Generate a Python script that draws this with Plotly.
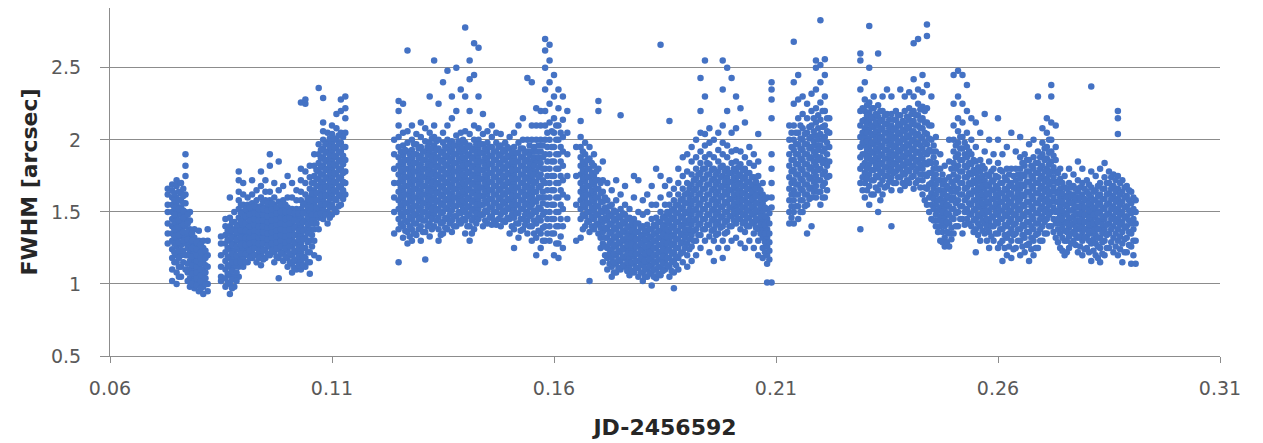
import plotly.graph_objects as go

# Column positions (JD-2456592), each with the FWHM values of its points
jd_cols = [
    0.073, 0.074, 0.075, 0.076, 0.077, 0.078, 0.079, 0.080, 0.081, 0.082,
    0.085, 0.086, 0.087, 0.088, 0.089, 0.090, 0.091, 0.092, 0.093, 0.094,
    0.095, 0.096, 0.097, 0.098, 0.099, 0.100, 0.101, 0.102, 0.103, 0.104,
    0.105, 0.106, 0.107, 0.108, 0.109, 0.110, 0.111, 0.112, 0.113,
    0.124, 0.125, 0.126, 0.127, 0.128, 0.129, 0.130, 0.131, 0.132, 0.133,
    0.134, 0.135, 0.136, 0.137, 0.138, 0.139, 0.140, 0.141, 0.142, 0.143,
    0.144, 0.145, 0.146, 0.147, 0.148, 0.149, 0.150, 0.151, 0.152, 0.153,
    0.154, 0.155, 0.156, 0.157, 0.158, 0.159, 0.160, 0.161, 0.162, 0.163,
    0.165, 0.166, 0.167, 0.168, 0.169, 0.170, 0.171, 0.172, 0.173, 0.174,
    0.175, 0.176, 0.177, 0.178, 0.179, 0.180, 0.181, 0.182, 0.183, 0.184,
    0.185, 0.186, 0.187, 0.188, 0.189, 0.190, 0.191, 0.192, 0.193, 0.194,
    0.195, 0.196, 0.197, 0.198, 0.199, 0.200, 0.201, 0.202, 0.203, 0.204,
    0.205, 0.206, 0.207, 0.208, 0.209,
    0.213, 0.214, 0.215, 0.216, 0.217, 0.218, 0.219, 0.220, 0.221, 0.222,
    0.229, 0.230, 0.231, 0.232, 0.233, 0.234, 0.235, 0.236, 0.237, 0.238,
    0.239, 0.240, 0.241, 0.242, 0.243, 0.244, 0.245, 0.246, 0.247, 0.248,
    0.249, 0.250, 0.251, 0.252, 0.253, 0.254, 0.255, 0.256, 0.257, 0.258,
    0.259, 0.260, 0.261, 0.262, 0.263, 0.264, 0.265, 0.266, 0.267, 0.268,
    0.269, 0.270, 0.271, 0.272, 0.273, 0.274, 0.275, 0.276, 0.277, 0.278,
    0.279, 0.280, 0.281, 0.282, 0.283, 0.284, 0.285, 0.286, 0.287, 0.288,
    0.289, 0.290, 0.291,
]

fwhm_cols = [
    [1.28, 1.35, 1.42, 1.5, 1.55, 1.62, 1.66],
    [1.02, 1.1, 1.18, 1.24, 1.3, 1.35, 1.4, 1.45, 1.5, 1.55, 1.6, 1.65, 1.69],
    [1.0, 1.08, 1.15, 1.2, 1.26, 1.31, 1.36, 1.41, 1.46, 1.5, 1.55, 1.6, 1.68, 1.72],
    [1.05, 1.12, 1.2, 1.27, 1.33, 1.38, 1.43, 1.48, 1.53, 1.58, 1.63, 1.7],
    [1.1, 1.2, 1.28, 1.34, 1.4, 1.45, 1.5, 1.56, 1.62, 1.75, 1.82, 1.9],
    [0.98, 1.04, 1.1, 1.16, 1.22, 1.28, 1.33, 1.38, 1.44, 1.5],
    [0.97, 1.02, 1.06, 1.1, 1.14, 1.18, 1.22, 1.27, 1.32, 1.38],
    [0.95, 1.0, 1.04, 1.08, 1.12, 1.16, 1.2, 1.25, 1.3, 1.37],
    [0.93, 0.98, 1.02, 1.06, 1.1, 1.15, 1.2, 1.25, 1.3],
    [0.95, 1.0, 1.12, 1.2, 1.3, 1.38],
    [1.02, 1.05, 1.12, 1.2, 1.28, 1.33],
    [0.98, 1.04, 1.1, 1.16, 1.22, 1.28, 1.34, 1.4, 1.45],
    [0.93, 1.0, 1.06, 1.12, 1.18, 1.24, 1.3, 1.35, 1.4, 1.46, 1.6],
    [0.98, 1.05, 1.12, 1.18, 1.23, 1.28, 1.33, 1.38, 1.43, 1.5],
    [1.05, 1.12, 1.18, 1.24, 1.3, 1.35, 1.4, 1.46, 1.52, 1.58, 1.64, 1.72, 1.78],
    [1.12, 1.18, 1.24, 1.3, 1.35, 1.4, 1.45, 1.5, 1.55, 1.62, 1.7],
    [1.15, 1.2, 1.25, 1.3, 1.34, 1.38, 1.42, 1.46, 1.5, 1.55, 1.6],
    [1.18, 1.22, 1.27, 1.31, 1.35, 1.39, 1.43, 1.47, 1.51, 1.56, 1.62, 1.72],
    [1.15, 1.2, 1.25, 1.3, 1.34, 1.38, 1.42, 1.46, 1.5, 1.54, 1.58, 1.65],
    [1.13, 1.2, 1.26, 1.3, 1.34, 1.38, 1.42, 1.46, 1.5, 1.54, 1.6, 1.68, 1.78],
    [1.18, 1.24, 1.29, 1.33, 1.37, 1.41, 1.45, 1.49, 1.53, 1.58, 1.64, 1.72],
    [1.2, 1.26, 1.3, 1.34, 1.38, 1.42, 1.46, 1.5, 1.54, 1.58, 1.64, 1.82, 1.9],
    [1.15, 1.22, 1.27, 1.31, 1.35, 1.39, 1.43, 1.47, 1.51, 1.55, 1.6, 1.7],
    [1.04, 1.18, 1.24, 1.28, 1.32, 1.36, 1.4, 1.44, 1.48, 1.52, 1.57, 1.65, 1.85],
    [1.16, 1.22, 1.27, 1.31, 1.35, 1.39, 1.43, 1.47, 1.52, 1.58, 1.68],
    [1.12, 1.18, 1.23, 1.28, 1.32, 1.36, 1.4, 1.44, 1.48, 1.53, 1.6, 1.75],
    [1.08, 1.14, 1.2, 1.26, 1.31, 1.36, 1.41, 1.46, 1.52, 1.6, 1.7],
    [1.1, 1.16, 1.22, 1.28, 1.34, 1.4, 1.46, 1.52, 1.58, 1.65],
    [1.1, 1.16, 1.22, 1.28, 1.34, 1.4, 1.46, 1.52, 1.58, 1.64, 1.72, 1.8, 2.26],
    [1.12, 1.18, 1.25, 1.32, 1.38, 1.44, 1.5, 1.56, 1.62, 1.7, 1.78, 2.25, 2.28],
    [1.07, 1.15, 1.22, 1.3, 1.38, 1.45, 1.5, 1.55, 1.6, 1.66, 1.74, 1.82],
    [1.2, 1.3, 1.38, 1.45, 1.5, 1.55, 1.6, 1.65, 1.7, 1.75, 1.82, 1.9],
    [1.18, 1.38, 1.46, 1.52, 1.58, 1.63, 1.68, 1.73, 1.78, 1.84, 1.9, 1.97, 2.36],
    [1.45, 1.52, 1.58, 1.64, 1.7, 1.76, 1.82, 1.88, 1.94, 2.0, 2.06, 2.12, 2.29],
    [1.42, 1.5, 1.56, 1.62, 1.68, 1.74, 1.8, 1.86, 1.92, 1.98, 2.05],
    [1.48, 1.55, 1.62, 1.68, 1.74, 1.8, 1.86, 1.92, 1.98, 2.04, 2.1],
    [1.5, 1.58, 1.64, 1.7, 1.76, 1.82, 1.88, 1.94, 2.0, 2.08, 2.18],
    [1.55, 1.62, 1.68, 1.74, 1.8, 1.86, 1.92, 1.98, 2.05, 2.2, 2.28],
    [1.62, 1.7, 1.78, 1.86, 1.95, 2.05, 2.15, 2.22, 2.3],
    [1.35, 1.5, 1.6, 1.7, 1.8, 1.9, 2.0],
    [1.15, 1.38, 1.45, 1.52, 1.58, 1.64, 1.7, 1.76, 1.82, 1.88, 1.95, 2.02, 2.1, 2.2, 2.27],
    [1.32, 1.4, 1.47, 1.53, 1.59, 1.65, 1.71, 1.77, 1.83, 1.89, 1.96, 2.05, 2.25],
    [1.28, 1.36, 1.43, 1.5, 1.56, 1.62, 1.68, 1.74, 1.8, 1.86, 1.92, 1.98, 2.06, 2.62],
    [1.3, 1.38, 1.45, 1.51, 1.57, 1.63, 1.69, 1.75, 1.81, 1.87, 1.93, 2.0, 2.1],
    [1.34, 1.42, 1.48, 1.54, 1.6, 1.66, 1.72, 1.78, 1.84, 1.9, 1.97, 2.04],
    [1.3, 1.4, 1.47, 1.53, 1.59, 1.65, 1.71, 1.77, 1.83, 1.89, 1.95, 2.02, 2.12],
    [1.17, 1.36, 1.44, 1.5, 1.56, 1.62, 1.68, 1.74, 1.8, 1.86, 1.92, 1.99, 2.08],
    [1.33, 1.42, 1.49, 1.55, 1.61, 1.67, 1.73, 1.79, 1.85, 1.91, 1.98, 2.05, 2.3],
    [1.4, 1.48, 1.54, 1.6, 1.66, 1.72, 1.78, 1.84, 1.9, 1.96, 2.02, 2.1, 2.55],
    [1.3, 1.38, 1.46, 1.52, 1.58, 1.64, 1.7, 1.76, 1.82, 1.88, 1.94, 2.0, 2.25],
    [1.35, 1.43, 1.5, 1.56, 1.62, 1.68, 1.74, 1.8, 1.86, 1.92, 1.98, 2.05, 2.4],
    [1.38, 1.45, 1.52, 1.58, 1.64, 1.7, 1.76, 1.82, 1.88, 1.94, 2.0, 2.1, 2.48],
    [1.36, 1.44, 1.51, 1.57, 1.63, 1.69, 1.75, 1.81, 1.87, 1.93, 1.99, 2.15, 2.3],
    [1.4, 1.47, 1.54, 1.6, 1.66, 1.72, 1.78, 1.84, 1.9, 1.96, 2.03, 2.2, 2.5],
    [1.42, 1.49, 1.55, 1.61, 1.67, 1.73, 1.79, 1.85, 1.91, 1.97, 2.05, 2.35],
    [1.35, 1.44, 1.5, 1.56, 1.62, 1.68, 1.74, 1.8, 1.86, 1.92, 1.98, 2.06, 2.3, 2.78],
    [1.3, 1.4, 1.48, 1.54, 1.6, 1.66, 1.72, 1.78, 1.84, 1.9, 1.96, 2.04, 2.2, 2.42, 2.55],
    [1.38, 1.46, 1.52, 1.58, 1.64, 1.7, 1.76, 1.82, 1.88, 1.94, 2.0, 2.1, 2.45, 2.67],
    [1.45, 1.52, 1.58, 1.64, 1.7, 1.76, 1.82, 1.88, 1.94, 2.0, 2.08, 2.3, 2.64],
    [1.4, 1.48, 1.55, 1.61, 1.67, 1.73, 1.79, 1.85, 1.91, 1.97, 2.04, 2.18],
    [1.42, 1.5, 1.56, 1.62, 1.68, 1.74, 1.8, 1.86, 1.92, 1.98, 2.06],
    [1.41, 1.47, 1.53, 1.59, 1.65, 1.71, 1.77, 1.83, 1.89, 1.95, 2.02, 2.1],
    [1.41, 1.5, 1.56, 1.62, 1.68, 1.74, 1.8, 1.86, 1.92, 1.98, 2.05],
    [1.4, 1.48, 1.54, 1.6, 1.66, 1.72, 1.78, 1.84, 1.9, 1.96, 2.04],
    [1.43, 1.5, 1.56, 1.62, 1.68, 1.74, 1.8, 1.86, 1.92, 1.98],
    [1.35, 1.45, 1.52, 1.58, 1.64, 1.7, 1.76, 1.82, 1.88, 1.94, 2.02],
    [1.25, 1.38, 1.46, 1.52, 1.58, 1.64, 1.7, 1.76, 1.82, 1.88, 1.95, 2.05],
    [1.32, 1.42, 1.49, 1.55, 1.61, 1.67, 1.73, 1.79, 1.85, 1.91, 1.98, 2.1],
    [1.38, 1.45, 1.52, 1.58, 1.64, 1.7, 1.76, 1.82, 1.88, 1.94, 2.0, 2.15],
    [1.35, 1.44, 1.5, 1.56, 1.62, 1.68, 1.74, 1.8, 1.86, 1.92, 2.0, 2.43],
    [1.3, 1.4, 1.48, 1.55, 1.61, 1.67, 1.73, 1.79, 1.85, 1.92, 2.0, 2.1, 2.4],
    [1.2, 1.32, 1.42, 1.5, 1.57, 1.64, 1.71, 1.78, 1.85, 1.92, 2.0, 2.1, 2.22],
    [1.25, 1.35, 1.44, 1.52, 1.6, 1.68, 1.76, 1.84, 1.92, 2.0, 2.1, 2.2],
    [1.15, 1.3, 1.4, 1.5, 1.6, 1.7, 1.8, 1.9, 2.0, 2.1, 2.2, 2.35, 2.5, 2.62, 2.7],
    [1.3, 1.4, 1.5, 1.6, 1.7, 1.8, 1.9, 2.0, 2.12, 2.25, 2.4, 2.55, 2.66],
    [1.2, 1.35, 1.45, 1.55, 1.65, 1.75, 1.85, 1.95, 2.05, 2.15, 2.3, 2.45],
    [1.18, 1.28, 1.4, 1.5, 1.6, 1.7, 1.8, 1.9, 2.0, 2.1, 2.22, 2.35],
    [1.25, 1.4, 1.52, 1.62, 1.72, 1.82, 1.92, 2.02, 2.14, 2.3],
    [1.45, 1.6, 1.75, 1.9, 2.05, 2.2],
    [1.3, 1.55, 1.75, 1.95],
    [1.32, 1.45, 1.52, 1.58, 1.64, 1.7, 1.76, 1.82, 1.88, 1.95, 2.02, 2.13],
    [1.4, 1.47, 1.53, 1.59, 1.65, 1.71, 1.77, 1.83, 1.9, 1.98],
    [1.02, 1.36, 1.44, 1.5, 1.56, 1.62, 1.68, 1.74, 1.8, 1.87, 1.95],
    [1.38, 1.45, 1.51, 1.57, 1.63, 1.69, 1.75, 1.82, 1.9],
    [1.35, 1.42, 1.48, 1.54, 1.6, 1.66, 1.72, 1.8, 2.2, 2.27],
    [1.15, 1.28, 1.36, 1.43, 1.5, 1.57, 1.64, 1.72, 1.85],
    [1.1, 1.18, 1.25, 1.32, 1.38, 1.44, 1.5, 1.58, 1.7],
    [1.05, 1.12, 1.18, 1.24, 1.3, 1.36, 1.42, 1.48, 1.55, 1.65],
    [1.08, 1.14, 1.2, 1.26, 1.32, 1.38, 1.44, 1.5, 1.58, 1.72],
    [1.1, 1.16, 1.22, 1.28, 1.34, 1.4, 1.46, 1.52, 1.62, 2.17],
    [1.12, 1.18, 1.24, 1.3, 1.36, 1.42, 1.48, 1.55, 1.68],
    [1.06, 1.12, 1.18, 1.24, 1.3, 1.35, 1.4, 1.46, 1.52],
    [1.08, 1.14, 1.19, 1.24, 1.29, 1.34, 1.39, 1.45, 1.6, 1.75],
    [1.05, 1.11, 1.16, 1.21, 1.26, 1.31, 1.36, 1.42, 1.5, 1.72],
    [1.02, 1.08, 1.14, 1.19, 1.24, 1.29, 1.34, 1.4, 1.48, 1.58],
    [1.05, 1.1, 1.15, 1.2, 1.25, 1.3, 1.35, 1.41, 1.5, 1.62],
    [0.99, 1.08, 1.13, 1.18, 1.23, 1.28, 1.33, 1.38, 1.45, 1.55, 1.68],
    [1.04, 1.1, 1.15, 1.2, 1.25, 1.3, 1.35, 1.4, 1.46, 1.55, 1.8],
    [1.06, 1.12, 1.17, 1.22, 1.27, 1.32, 1.37, 1.43, 1.5, 1.6, 1.75, 2.66],
    [1.1, 1.16, 1.21, 1.26, 1.31, 1.36, 1.41, 1.47, 1.55, 1.68],
    [1.05, 1.12, 1.18, 1.24, 1.3, 1.36, 1.42, 1.48, 1.55, 1.62, 1.72, 2.13],
    [0.97, 1.08, 1.16, 1.22, 1.28, 1.34, 1.4, 1.46, 1.52, 1.58, 1.66],
    [1.1, 1.18, 1.25, 1.31, 1.37, 1.43, 1.49, 1.55, 1.62, 1.7, 1.8],
    [1.15, 1.22, 1.29, 1.35, 1.41, 1.47, 1.53, 1.59, 1.66, 1.75, 1.88],
    [1.12, 1.2, 1.28, 1.35, 1.42, 1.49, 1.56, 1.63, 1.7, 1.78, 1.9],
    [1.16, 1.26, 1.34, 1.41, 1.48, 1.55, 1.62, 1.69, 1.76, 1.85, 1.95],
    [1.2, 1.3, 1.38, 1.45, 1.52, 1.59, 1.66, 1.73, 1.8, 1.88, 2.0],
    [1.25, 1.34, 1.42, 1.49, 1.56, 1.63, 1.7, 1.77, 1.84, 1.92, 2.05, 2.2, 2.43],
    [1.3, 1.38, 1.45, 1.52, 1.59, 1.66, 1.73, 1.8, 1.88, 1.96, 2.04, 2.3, 2.55],
    [1.22, 1.33, 1.41, 1.48, 1.55, 1.62, 1.69, 1.76, 1.83, 1.9, 1.98, 2.08],
    [1.16, 1.3, 1.38, 1.45, 1.52, 1.59, 1.66, 1.73, 1.8, 1.88, 2.0],
    [1.25, 1.35, 1.43, 1.5, 1.57, 1.64, 1.71, 1.78, 1.85, 1.93, 2.05],
    [1.18, 1.3, 1.4, 1.47, 1.54, 1.61, 1.68, 1.75, 1.82, 1.9, 1.98, 2.1, 2.35, 2.55],
    [1.25, 1.36, 1.44, 1.5, 1.56, 1.62, 1.68, 1.74, 1.8, 1.88, 1.96, 2.2, 2.5],
    [1.3, 1.4, 1.47, 1.53, 1.59, 1.65, 1.71, 1.77, 1.84, 1.92, 2.05, 2.43],
    [1.32, 1.42, 1.48, 1.54, 1.6, 1.66, 1.72, 1.78, 1.85, 1.93, 2.08, 2.3],
    [1.28, 1.38, 1.45, 1.5, 1.55, 1.6, 1.65, 1.7, 1.76, 1.83, 1.92, 2.22],
    [1.25, 1.36, 1.43, 1.48, 1.53, 1.58, 1.63, 1.68, 1.74, 1.8, 1.88, 2.12],
    [1.3, 1.4, 1.46, 1.51, 1.56, 1.61, 1.66, 1.71, 1.77, 1.84, 1.95],
    [1.25, 1.35, 1.42, 1.48, 1.53, 1.58, 1.63, 1.68, 1.74, 1.82, 1.9],
    [1.2, 1.3, 1.38, 1.44, 1.5, 1.56, 1.62, 1.68, 1.75, 1.85, 2.04],
    [1.18, 1.25, 1.32, 1.38, 1.44, 1.5, 1.56, 1.62, 1.7],
    [1.01, 1.14, 1.2, 1.26, 1.32, 1.38, 1.45, 1.52, 1.6],
    [1.01, 1.53, 1.6, 1.7, 1.8, 1.9, 2.15, 2.28, 2.35, 2.4],
    [1.42, 1.5, 1.58, 1.66, 1.74, 1.82, 1.9, 2.0, 2.1],
    [1.42, 1.5, 1.58, 1.65, 1.72, 1.79, 1.86, 1.93, 2.0, 2.1, 2.25, 2.4, 2.68],
    [1.45, 1.54, 1.62, 1.69, 1.76, 1.83, 1.9, 1.97, 2.05, 2.15, 2.28, 2.45],
    [1.5, 1.58, 1.65, 1.72, 1.79, 1.86, 1.93, 2.0, 2.08, 2.18, 2.3],
    [1.35, 1.55, 1.62, 1.69, 1.76, 1.83, 1.9, 1.97, 2.05, 2.15, 2.25],
    [1.4, 1.6, 1.67, 1.74, 1.81, 1.88, 1.95, 2.02, 2.1, 2.2, 2.32],
    [1.6, 1.68, 1.75, 1.82, 1.89, 1.96, 2.03, 2.12, 2.22, 2.35, 2.5, 2.55],
    [1.55, 1.64, 1.72, 1.8, 1.88, 1.96, 2.04, 2.14, 2.26, 2.4, 2.52, 2.83],
    [1.6, 1.7, 1.78, 1.86, 1.94, 2.02, 2.1, 2.2, 2.3, 2.45, 2.56],
    [1.75, 1.85, 1.95, 2.05, 2.15],
    [1.38, 1.7, 1.8, 1.88, 1.95, 2.02, 2.1, 2.2, 2.35, 2.55, 2.6],
    [1.6, 1.7, 1.77, 1.84, 1.9, 1.96, 2.02, 2.08, 2.14, 2.2, 2.28, 2.4],
    [1.55, 1.68, 1.76, 1.83, 1.89, 1.95, 2.01, 2.07, 2.13, 2.19, 2.26, 2.5, 2.79],
    [1.62, 1.72, 1.79, 1.85, 1.91, 1.97, 2.03, 2.09, 2.15, 2.22, 2.3],
    [1.5, 1.65, 1.74, 1.8, 1.86, 1.92, 1.98, 2.04, 2.1, 2.16, 2.24, 2.6],
    [1.62, 1.72, 1.78, 1.84, 1.9, 1.96, 2.02, 2.08, 2.14, 2.2, 2.3],
    [1.68, 1.75, 1.81, 1.87, 1.93, 1.99, 2.05, 2.11, 2.18, 2.35],
    [1.4, 1.65, 1.74, 1.8, 1.86, 1.92, 1.98, 2.04, 2.1, 2.18, 2.3],
    [1.7, 1.78, 1.84, 1.9, 1.96, 2.02, 2.08, 2.14, 2.2],
    [1.65, 1.74, 1.8, 1.86, 1.92, 1.98, 2.04, 2.1, 2.17, 2.35],
    [1.68, 1.76, 1.82, 1.88, 1.94, 2.0, 2.06, 2.12, 2.2, 2.3],
    [1.7, 1.78, 1.84, 1.9, 1.96, 2.02, 2.08, 2.14, 2.22, 2.33],
    [1.66, 1.75, 1.82, 1.88, 1.94, 2.0, 2.06, 2.13, 2.2, 2.3, 2.42, 2.67],
    [1.72, 1.8, 1.86, 1.92, 1.98, 2.04, 2.1, 2.17, 2.25, 2.35, 2.7],
    [1.62, 1.72, 1.8, 1.87, 1.94, 2.01, 2.08, 2.15, 2.23, 2.33, 2.45],
    [1.55, 1.66, 1.75, 1.83, 1.9, 1.97, 2.04, 2.12, 2.22, 2.38, 2.72, 2.8],
    [1.45, 1.55, 1.63, 1.7, 1.77, 1.84, 1.92, 2.0, 2.1, 2.3],
    [1.4, 1.48, 1.55, 1.62, 1.69, 1.76, 1.84, 1.92, 2.02],
    [1.3, 1.4, 1.47, 1.53, 1.59, 1.65, 1.72, 1.8, 1.9],
    [1.26, 1.32, 1.4, 1.46, 1.52, 1.58, 1.65, 1.72, 1.82],
    [1.26, 1.35, 1.42, 1.48, 1.54, 1.6, 1.66, 1.74, 1.85, 2.0],
    [1.35, 1.45, 1.52, 1.6, 1.68, 1.76, 1.84, 1.92, 2.0, 2.1, 2.25, 2.45],
    [1.4, 1.5, 1.58, 1.66, 1.74, 1.82, 1.9, 1.98, 2.06, 2.15, 2.3, 2.48],
    [1.35, 1.45, 1.54, 1.62, 1.7, 1.78, 1.86, 1.94, 2.02, 2.12, 2.25, 2.45],
    [1.45, 1.52, 1.6, 1.67, 1.74, 1.81, 1.88, 1.95, 2.05, 2.2, 2.38],
    [1.4, 1.48, 1.55, 1.62, 1.69, 1.76, 1.83, 1.9, 2.0, 2.15],
    [1.22, 1.38, 1.45, 1.52, 1.58, 1.64, 1.7, 1.77, 1.85, 1.95, 2.12],
    [1.3, 1.4, 1.47, 1.53, 1.59, 1.65, 1.71, 1.78, 1.86, 2.05],
    [1.35, 1.42, 1.48, 1.54, 1.6, 1.66, 1.72, 1.8, 1.92, 2.18],
    [1.25, 1.36, 1.43, 1.5, 1.56, 1.62, 1.68, 1.75, 1.85, 2.0],
    [1.3, 1.4, 1.47, 1.53, 1.59, 1.65, 1.72, 1.8, 1.9],
    [1.25, 1.35, 1.42, 1.48, 1.54, 1.6, 1.66, 1.74, 1.84, 2.0, 2.15],
    [1.16, 1.3, 1.38, 1.45, 1.51, 1.57, 1.63, 1.7, 1.78, 1.9],
    [1.2, 1.32, 1.4, 1.47, 1.53, 1.59, 1.65, 1.72, 1.8, 1.95],
    [1.18, 1.3, 1.38, 1.45, 1.51, 1.57, 1.63, 1.7, 1.8, 2.05],
    [1.25, 1.35, 1.42, 1.48, 1.54, 1.6, 1.66, 1.72, 1.8, 1.92],
    [1.2, 1.3, 1.38, 1.45, 1.52, 1.59, 1.66, 1.73, 1.8, 1.88, 2.02],
    [1.22, 1.32, 1.4, 1.47, 1.54, 1.61, 1.68, 1.75, 1.82, 1.9],
    [1.16, 1.28, 1.36, 1.43, 1.5, 1.57, 1.64, 1.71, 1.78, 1.86, 1.97],
    [1.2, 1.3, 1.38, 1.45, 1.52, 1.59, 1.66, 1.73, 1.8, 1.88, 2.0],
    [1.25, 1.35, 1.42, 1.49, 1.56, 1.63, 1.7, 1.77, 1.84, 1.92, 2.3],
    [1.3, 1.4, 1.47, 1.54, 1.61, 1.68, 1.75, 1.82, 1.9, 1.98, 2.08],
    [1.35, 1.45, 1.52, 1.59, 1.66, 1.73, 1.8, 1.87, 1.95, 2.05, 2.15],
    [1.4, 1.5, 1.57, 1.64, 1.71, 1.78, 1.85, 1.92, 2.0, 2.12, 2.3, 2.38],
    [1.32, 1.42, 1.5, 1.57, 1.64, 1.71, 1.78, 1.86, 1.95, 2.1],
    [1.25, 1.35, 1.42, 1.48, 1.54, 1.6, 1.66, 1.73, 1.8],
    [1.2, 1.3, 1.37, 1.43, 1.49, 1.55, 1.61, 1.67, 1.75],
    [1.25, 1.33, 1.39, 1.45, 1.51, 1.57, 1.63, 1.7, 1.8],
    [1.3, 1.36, 1.42, 1.47, 1.52, 1.57, 1.62, 1.68, 1.76],
    [1.22, 1.32, 1.38, 1.43, 1.48, 1.53, 1.58, 1.64, 1.72, 1.85],
    [1.2, 1.3, 1.36, 1.41, 1.46, 1.51, 1.56, 1.62, 1.7, 1.8],
    [1.25, 1.33, 1.38, 1.43, 1.48, 1.53, 1.58, 1.64, 1.72],
    [1.16, 1.28, 1.35, 1.4, 1.45, 1.5, 1.55, 1.6, 1.67, 1.78, 2.37],
    [1.2, 1.28, 1.34, 1.4, 1.46, 1.52, 1.58, 1.65, 1.75],
    [1.15, 1.25, 1.32, 1.38, 1.44, 1.5, 1.56, 1.62, 1.7, 1.8],
    [1.2, 1.3, 1.38, 1.45, 1.52, 1.59, 1.66, 1.74, 1.84],
    [1.25, 1.35, 1.42, 1.49, 1.56, 1.63, 1.7, 1.78],
    [1.22, 1.32, 1.4, 1.47, 1.54, 1.61, 1.68, 1.76],
    [1.2, 1.3, 1.38, 1.45, 1.52, 1.59, 1.66, 1.75, 2.04, 2.15, 2.2],
    [1.15, 1.28, 1.36, 1.43, 1.5, 1.57, 1.64, 1.72],
    [1.22, 1.32, 1.4, 1.47, 1.54, 1.61, 1.68],
    [1.14, 1.26, 1.35, 1.42, 1.49, 1.56, 1.64],
    [1.14, 1.3, 1.42, 1.5, 1.58],
]

# Extra points read from the densest parts of each cloud (between the columns above)
jd_fill = [
    0.0745, 0.0755, 0.0765, 0.0775, 0.0785, 0.0795, 0.0805, 0.0815,
    0.0865, 0.0875, 0.0885, 0.0895, 0.0905, 0.0915, 0.0925, 0.0935, 0.0945,
    0.0955, 0.0965, 0.0975, 0.0985, 0.0995, 0.1005, 0.1015, 0.1025, 0.1035,
    0.1045, 0.1055, 0.1065, 0.1075, 0.1085, 0.1095, 0.1105, 0.1115, 0.1125,
    0.1255, 0.1265, 0.1275, 0.1285, 0.1295, 0.1305, 0.1315, 0.1325, 0.1335,
    0.1345, 0.1355, 0.1365, 0.1375, 0.1385, 0.1395, 0.1405, 0.1415, 0.1425,
    0.1435, 0.1445, 0.1455, 0.1465, 0.1475, 0.1485, 0.1495, 0.1505, 0.1515,
    0.1525, 0.1535, 0.1545, 0.1555, 0.1565, 0.1575, 0.1585, 0.1595, 0.1605,
    0.1615,
    0.1665, 0.1675, 0.1685, 0.1695, 0.1705, 0.1715, 0.1725, 0.1735, 0.1745,
    0.1755, 0.1765, 0.1775, 0.1785, 0.1795, 0.1805, 0.1815, 0.1825, 0.1835,
    0.1845, 0.1855, 0.1865, 0.1875, 0.1885, 0.1895, 0.1905, 0.1915, 0.1925,
    0.1935, 0.1945, 0.1955, 0.1965, 0.1975, 0.1985, 0.1995, 0.2005, 0.2015,
    0.2025, 0.2035, 0.2045, 0.2055, 0.2065, 0.2075, 0.2085,
    0.2135, 0.2145, 0.2155, 0.2165, 0.2175, 0.2185, 0.2195, 0.2205, 0.2215,
    0.2295, 0.2305, 0.2315, 0.2325, 0.2335, 0.2345, 0.2355, 0.2365, 0.2375,
    0.2385, 0.2395, 0.2405, 0.2415, 0.2425, 0.2435, 0.2445, 0.2455, 0.2465,
    0.2475, 0.2485, 0.2495, 0.2505, 0.2515, 0.2525, 0.2535, 0.2545, 0.2555,
    0.2565, 0.2575, 0.2585, 0.2595, 0.2605, 0.2615, 0.2625, 0.2635, 0.2645,
    0.2655, 0.2665, 0.2675, 0.2685, 0.2695, 0.2705, 0.2715, 0.2725, 0.2735,
    0.2745, 0.2755, 0.2765, 0.2775, 0.2785, 0.2795, 0.2805, 0.2815, 0.2825,
    0.2835, 0.2845, 0.2855, 0.2865, 0.2875, 0.2885, 0.2895, 0.2905,
]

fwhm_fill = [
    [1.15, 1.22, 1.28, 1.33, 1.38, 1.43, 1.48, 1.53, 1.58, 1.63],
    [1.05, 1.12, 1.18, 1.23, 1.29, 1.34, 1.39, 1.44, 1.52, 1.58, 1.64],
    [1.15, 1.23, 1.3, 1.36, 1.41, 1.46, 1.51, 1.56, 1.61, 1.66],
    [1.02, 1.08, 1.14, 1.2, 1.25, 1.31, 1.36, 1.42, 1.48],
    [1.0, 1.07, 1.13, 1.19, 1.25, 1.3, 1.35],
    [0.99, 1.04, 1.08, 1.12, 1.16, 1.2, 1.24, 1.29],
    [0.97, 1.02, 1.06, 1.1, 1.14, 1.18, 1.22, 1.27],
    [1.0, 1.04, 1.08, 1.13, 1.18, 1.23],
    [1.01, 1.07, 1.13, 1.19, 1.25, 1.31, 1.37],
    [0.97, 1.03, 1.09, 1.15, 1.21, 1.27, 1.32, 1.37, 1.43],
    [1.02, 1.08, 1.15, 1.2, 1.26, 1.31, 1.36, 1.41],
    [1.15, 1.21, 1.27, 1.32, 1.37, 1.43, 1.49, 1.55],
    [1.15, 1.21, 1.27, 1.32, 1.37, 1.42, 1.47, 1.52],
    [1.18, 1.23, 1.28, 1.32, 1.36, 1.4, 1.44, 1.48, 1.53],
    [1.2, 1.25, 1.29, 1.33, 1.37, 1.41, 1.45, 1.49, 1.54],
    [1.18, 1.23, 1.28, 1.32, 1.36, 1.4, 1.44, 1.48, 1.52],
    [1.17, 1.23, 1.28, 1.32, 1.36, 1.4, 1.44, 1.48, 1.52, 1.57],
    [1.21, 1.27, 1.31, 1.35, 1.39, 1.43, 1.47, 1.51, 1.56],
    [1.23, 1.28, 1.32, 1.36, 1.4, 1.44, 1.48, 1.52, 1.56],
    [1.19, 1.25, 1.29, 1.33, 1.37, 1.41, 1.45, 1.49, 1.53],
    [1.21, 1.26, 1.3, 1.34, 1.38, 1.42, 1.46, 1.5, 1.55],
    [1.19, 1.25, 1.29, 1.33, 1.37, 1.41, 1.45, 1.5, 1.55],
    [1.15, 1.21, 1.26, 1.3, 1.34, 1.38, 1.42, 1.46, 1.5],
    [1.11, 1.17, 1.23, 1.29, 1.34, 1.39, 1.44, 1.49],
    [1.13, 1.19, 1.25, 1.31, 1.37, 1.43, 1.49],
    [1.13, 1.19, 1.25, 1.31, 1.37, 1.43, 1.49, 1.55],
    [1.15, 1.22, 1.29, 1.35, 1.41, 1.47, 1.53, 1.59],
    [1.26, 1.34, 1.42, 1.48, 1.53, 1.58, 1.63, 1.7],
    [1.42, 1.48, 1.53, 1.58, 1.63, 1.68, 1.73, 1.79],
    [1.49, 1.55, 1.61, 1.66, 1.71, 1.76, 1.81, 1.87, 1.93],
    [1.48, 1.55, 1.61, 1.67, 1.73, 1.79, 1.85, 1.91, 1.97],
    [1.46, 1.53, 1.59, 1.65, 1.71, 1.77, 1.83, 1.89, 1.95, 2.01],
    [1.52, 1.59, 1.65, 1.71, 1.77, 1.83, 1.89, 1.95, 2.01],
    [1.54, 1.61, 1.67, 1.73, 1.79, 1.85, 1.91, 1.97, 2.03],
    [1.59, 1.65, 1.71, 1.77, 1.83, 1.89, 1.95, 2.02],
    [1.42, 1.49, 1.55, 1.61, 1.67, 1.73, 1.79, 1.85, 1.92],
    [1.37, 1.44, 1.5, 1.56, 1.62, 1.68, 1.74, 1.8, 1.86, 1.93],
    [1.33, 1.4, 1.47, 1.53, 1.59, 1.65, 1.71, 1.77, 1.84, 1.9],
    [1.35, 1.42, 1.48, 1.54, 1.6, 1.66, 1.72, 1.78, 1.84, 1.9, 1.97],
    [1.38, 1.45, 1.51, 1.57, 1.63, 1.69, 1.75, 1.81, 1.87, 1.94],
    [1.36, 1.44, 1.5, 1.56, 1.62, 1.68, 1.74, 1.8, 1.86, 1.92],
    [1.4, 1.47, 1.53, 1.59, 1.65, 1.71, 1.77, 1.83, 1.89, 1.95],
    [1.38, 1.45, 1.52, 1.58, 1.64, 1.7, 1.76, 1.82, 1.88, 1.94, 2.01],
    [1.44, 1.51, 1.57, 1.63, 1.69, 1.75, 1.81, 1.87, 1.93, 1.99],
    [1.34, 1.42, 1.49, 1.55, 1.61, 1.67, 1.73, 1.79, 1.85, 1.91],
    [1.39, 1.46, 1.53, 1.59, 1.65, 1.71, 1.77, 1.83, 1.89, 1.95],
    [1.42, 1.48, 1.55, 1.61, 1.67, 1.73, 1.79, 1.85, 1.91, 1.97],
    [1.4, 1.47, 1.54, 1.6, 1.66, 1.72, 1.78, 1.84, 1.9, 1.96],
    [1.44, 1.5, 1.57, 1.63, 1.69, 1.75, 1.81, 1.87, 1.93, 1.99],
    [1.45, 1.52, 1.58, 1.64, 1.7, 1.76, 1.82, 1.88, 1.94, 2.0],
    [1.4, 1.47, 1.53, 1.59, 1.65, 1.71, 1.77, 1.83, 1.89, 1.95],
    [1.35, 1.44, 1.51, 1.57, 1.63, 1.69, 1.75, 1.81, 1.87, 1.93],
    [1.42, 1.49, 1.55, 1.61, 1.67, 1.73, 1.79, 1.85, 1.91, 1.97],
    [1.48, 1.55, 1.61, 1.67, 1.73, 1.79, 1.85, 1.91, 1.97],
    [1.44, 1.51, 1.58, 1.64, 1.7, 1.76, 1.82, 1.88, 1.94],
    [1.46, 1.53, 1.59, 1.65, 1.71, 1.77, 1.83, 1.89, 1.95],
    [1.44, 1.5, 1.56, 1.62, 1.68, 1.74, 1.8, 1.86, 1.92],
    [1.45, 1.53, 1.59, 1.65, 1.71, 1.77, 1.83, 1.89, 1.95],
    [1.44, 1.51, 1.57, 1.63, 1.69, 1.75, 1.81, 1.87, 1.93],
    [1.46, 1.53, 1.59, 1.65, 1.71, 1.77, 1.83, 1.89, 1.95],
    [1.4, 1.48, 1.55, 1.61, 1.67, 1.73, 1.79, 1.85, 1.91],
    [1.42, 1.49, 1.55, 1.61, 1.67, 1.73, 1.79, 1.85, 1.91],
    [1.37, 1.45, 1.52, 1.58, 1.64, 1.7, 1.76, 1.82, 1.88, 1.94],
    [1.41, 1.48, 1.55, 1.61, 1.67, 1.73, 1.79, 1.85, 1.91],
    [1.4, 1.47, 1.53, 1.59, 1.65, 1.71, 1.77, 1.83, 1.89, 1.96],
    [1.35, 1.44, 1.51, 1.58, 1.64, 1.7, 1.76, 1.82, 1.88, 1.95],
    [1.37, 1.46, 1.53, 1.6, 1.67, 1.74, 1.81, 1.88, 1.96],
    [1.3, 1.39, 1.48, 1.56, 1.64, 1.72, 1.8, 1.88, 1.96],
    [1.35, 1.45, 1.55, 1.65, 1.75, 1.85, 1.95, 2.05],
    [1.35, 1.45, 1.55, 1.65, 1.75, 1.85, 1.95, 2.06],
    [1.28, 1.4, 1.5, 1.6, 1.7, 1.8, 1.9, 2.0, 2.1],
    [1.33, 1.45, 1.55, 1.65, 1.75, 1.85, 1.95, 2.05],
    [1.38, 1.48, 1.55, 1.61, 1.67, 1.73, 1.79, 1.85, 1.92],
    [1.43, 1.5, 1.56, 1.62, 1.68, 1.74, 1.8, 1.86],
    [1.4, 1.47, 1.53, 1.59, 1.65, 1.71, 1.77, 1.84],
    [1.41, 1.48, 1.54, 1.6, 1.66, 1.72, 1.78],
    [1.25, 1.32, 1.39, 1.45, 1.51, 1.57, 1.63, 1.7],
    [1.2, 1.26, 1.32, 1.39, 1.46, 1.53, 1.6],
    [1.14, 1.21, 1.28, 1.35, 1.41, 1.47, 1.54],
    [1.08, 1.15, 1.21, 1.27, 1.33, 1.39, 1.45, 1.51],
    [1.11, 1.17, 1.23, 1.29, 1.35, 1.41, 1.47],
    [1.13, 1.19, 1.25, 1.31, 1.37, 1.43, 1.49],
    [1.09, 1.15, 1.21, 1.27, 1.33, 1.39, 1.45],
    [1.09, 1.15, 1.21, 1.27, 1.32, 1.37, 1.43],
    [1.11, 1.16, 1.21, 1.26, 1.31, 1.36, 1.42],
    [1.08, 1.13, 1.18, 1.23, 1.28, 1.33, 1.39],
    [1.05, 1.11, 1.16, 1.21, 1.26, 1.31, 1.37],
    [1.07, 1.12, 1.17, 1.22, 1.27, 1.32, 1.38],
    [1.05, 1.1, 1.15, 1.2, 1.25, 1.3, 1.35, 1.41],
    [1.07, 1.12, 1.17, 1.22, 1.27, 1.32, 1.37, 1.43],
    [1.09, 1.14, 1.19, 1.24, 1.29, 1.34, 1.4, 1.46],
    [1.13, 1.18, 1.23, 1.28, 1.33, 1.38, 1.44, 1.5],
    [1.09, 1.15, 1.21, 1.27, 1.33, 1.39, 1.45, 1.51],
    [1.13, 1.19, 1.25, 1.31, 1.37, 1.43, 1.49, 1.55],
    [1.21, 1.28, 1.34, 1.4, 1.46, 1.52, 1.58],
    [1.25, 1.32, 1.38, 1.44, 1.5, 1.56, 1.62],
    [1.24, 1.31, 1.38, 1.45, 1.52, 1.59, 1.66],
    [1.3, 1.37, 1.44, 1.51, 1.58, 1.65, 1.72],
    [1.34, 1.41, 1.48, 1.55, 1.62, 1.69, 1.76],
    [1.38, 1.45, 1.52, 1.59, 1.66, 1.73, 1.8],
    [1.41, 1.48, 1.55, 1.62, 1.69, 1.76, 1.84],
    [1.37, 1.44, 1.51, 1.58, 1.65, 1.72, 1.79],
    [1.34, 1.41, 1.48, 1.55, 1.62, 1.69, 1.76],
    [1.39, 1.46, 1.53, 1.6, 1.67, 1.74, 1.81],
    [1.35, 1.43, 1.5, 1.57, 1.64, 1.71, 1.78],
    [1.4, 1.47, 1.53, 1.59, 1.65, 1.71, 1.77],
    [1.44, 1.5, 1.56, 1.62, 1.68, 1.74, 1.8],
    [1.45, 1.51, 1.57, 1.63, 1.69, 1.75, 1.81],
    [1.42, 1.48, 1.53, 1.58, 1.63, 1.68, 1.73, 1.79],
    [1.4, 1.46, 1.51, 1.56, 1.61, 1.66, 1.71, 1.77],
    [1.43, 1.49, 1.54, 1.59, 1.64, 1.69, 1.74],
    [1.39, 1.45, 1.51, 1.56, 1.61, 1.66, 1.71],
    [1.35, 1.41, 1.47, 1.53, 1.59, 1.65],
    [1.22, 1.29, 1.35, 1.41, 1.47, 1.53, 1.59],
    [1.17, 1.23, 1.29, 1.35, 1.42, 1.49],
    [1.46, 1.54, 1.62, 1.7, 1.78, 1.86, 1.95, 2.05],
    [1.54, 1.62, 1.69, 1.76, 1.83, 1.9, 1.97, 2.05],
    [1.5, 1.58, 1.66, 1.73, 1.8, 1.87, 1.94, 2.01, 2.1],
    [1.54, 1.62, 1.69, 1.76, 1.83, 1.9, 1.97, 2.04],
    [1.59, 1.66, 1.73, 1.8, 1.87, 1.94, 2.01, 2.09],
    [1.64, 1.71, 1.78, 1.85, 1.92, 1.99, 2.06, 2.15],
    [1.64, 1.72, 1.79, 1.86, 1.93, 2.0, 2.08, 2.17],
    [1.6, 1.68, 1.76, 1.84, 1.92, 2.0, 2.09, 2.2],
    [1.65, 1.74, 1.82, 1.9, 1.98, 2.06, 2.15],
    [1.65, 1.74, 1.82, 1.9, 1.98, 2.05, 2.13, 2.22],
    [1.65, 1.73, 1.8, 1.87, 1.93, 1.99, 2.05, 2.11, 2.17, 2.24],
    [1.62, 1.72, 1.79, 1.86, 1.92, 1.98, 2.04, 2.1, 2.16, 2.22],
    [1.67, 1.75, 1.82, 1.88, 1.94, 2.0, 2.06, 2.12, 2.18],
    [1.58, 1.69, 1.77, 1.83, 1.89, 1.95, 2.01, 2.07, 2.13, 2.2],
    [1.67, 1.75, 1.81, 1.87, 1.93, 1.99, 2.05, 2.11, 2.17],
    [1.71, 1.78, 1.84, 1.9, 1.96, 2.02, 2.08, 2.14],
    [1.7, 1.77, 1.83, 1.89, 1.95, 2.01, 2.07, 2.14],
    [1.74, 1.81, 1.87, 1.93, 1.99, 2.05, 2.11, 2.17],
    [1.7, 1.77, 1.83, 1.89, 1.95, 2.01, 2.07, 2.13],
    [1.72, 1.79, 1.85, 1.91, 1.97, 2.03, 2.09, 2.16],
    [1.74, 1.81, 1.87, 1.93, 1.99, 2.05, 2.11, 2.18],
    [1.7, 1.78, 1.85, 1.91, 1.97, 2.03, 2.1, 2.17],
    [1.67, 1.76, 1.83, 1.9, 1.96, 2.02, 2.08, 2.14, 2.21],
    [1.58, 1.67, 1.76, 1.84, 1.91, 1.98, 2.05, 2.12, 2.2],
    [1.5, 1.6, 1.69, 1.77, 1.85, 1.93, 2.01, 2.1],
    [1.44, 1.52, 1.59, 1.66, 1.73, 1.8, 1.88, 1.96],
    [1.36, 1.44, 1.51, 1.58, 1.65, 1.72, 1.8],
    [1.29, 1.36, 1.43, 1.5, 1.56, 1.62, 1.69, 1.76],
    [1.29, 1.36, 1.43, 1.49, 1.55, 1.61, 1.68],
    [1.31, 1.39, 1.46, 1.52, 1.58, 1.64, 1.71, 1.8],
    [1.4, 1.49, 1.56, 1.64, 1.72, 1.8, 1.88, 1.96],
    [1.45, 1.54, 1.62, 1.7, 1.78, 1.86, 1.94, 2.02],
    [1.41, 1.5, 1.58, 1.66, 1.74, 1.82, 1.9, 1.98],
    [1.42, 1.49, 1.56, 1.63, 1.7, 1.77, 1.84, 1.92],
    [1.36, 1.44, 1.51, 1.58, 1.65, 1.72, 1.79, 1.86],
    [1.34, 1.42, 1.48, 1.55, 1.61, 1.67, 1.74, 1.81],
    [1.37, 1.44, 1.5, 1.56, 1.62, 1.68, 1.75, 1.82],
    [1.3, 1.39, 1.45, 1.51, 1.57, 1.63, 1.69, 1.76],
    [1.33, 1.4, 1.46, 1.53, 1.59, 1.65, 1.71, 1.78],
    [1.35, 1.43, 1.5, 1.56, 1.62, 1.68, 1.75],
    [1.28, 1.38, 1.45, 1.51, 1.57, 1.63, 1.7, 1.79],
    [1.25, 1.34, 1.41, 1.48, 1.54, 1.6, 1.66, 1.74],
    [1.26, 1.35, 1.43, 1.5, 1.56, 1.62, 1.68, 1.76],
    [1.24, 1.34, 1.41, 1.48, 1.54, 1.6, 1.67, 1.75],
    [1.3, 1.38, 1.45, 1.51, 1.57, 1.63, 1.69, 1.76],
    [1.26, 1.34, 1.41, 1.48, 1.55, 1.62, 1.69, 1.76, 1.84],
    [1.27, 1.36, 1.43, 1.5, 1.57, 1.64, 1.71, 1.78, 1.86],
    [1.24, 1.32, 1.4, 1.47, 1.54, 1.61, 1.68, 1.75, 1.82],
    [1.25, 1.34, 1.42, 1.49, 1.56, 1.63, 1.7, 1.77, 1.84],
    [1.3, 1.38, 1.45, 1.52, 1.59, 1.66, 1.73, 1.8, 1.88],
    [1.35, 1.43, 1.5, 1.57, 1.64, 1.71, 1.78, 1.86, 1.94],
    [1.4, 1.48, 1.55, 1.62, 1.69, 1.76, 1.83, 1.91, 2.0],
    [1.36, 1.45, 1.53, 1.6, 1.67, 1.74, 1.81, 1.89],
    [1.29, 1.38, 1.45, 1.51, 1.57, 1.63, 1.7, 1.77],
    [1.23, 1.32, 1.39, 1.45, 1.51, 1.57, 1.63, 1.7],
    [1.22, 1.3, 1.36, 1.42, 1.48, 1.54, 1.6, 1.66],
    [1.28, 1.35, 1.41, 1.46, 1.51, 1.56, 1.61, 1.67],
    [1.27, 1.34, 1.39, 1.44, 1.49, 1.54, 1.6, 1.66],
    [1.26, 1.33, 1.39, 1.44, 1.49, 1.54, 1.6, 1.67],
    [1.24, 1.32, 1.38, 1.43, 1.48, 1.53, 1.59, 1.66],
    [1.22, 1.3, 1.36, 1.41, 1.46, 1.51, 1.56, 1.62, 1.69],
    [1.23, 1.31, 1.37, 1.42, 1.48, 1.53, 1.58, 1.64],
    [1.18, 1.26, 1.32, 1.38, 1.43, 1.49, 1.55, 1.61, 1.68],
    [1.21, 1.29, 1.35, 1.41, 1.47, 1.53, 1.59, 1.66],
    [1.25, 1.34, 1.41, 1.48, 1.55, 1.62, 1.7],
    [1.29, 1.38, 1.45, 1.52, 1.59, 1.66, 1.74],
    [1.26, 1.35, 1.43, 1.5, 1.57, 1.64, 1.72],
    [1.24, 1.33, 1.41, 1.48, 1.55, 1.62, 1.7],
    [1.22, 1.31, 1.39, 1.46, 1.53, 1.6, 1.67],
    [1.27, 1.36, 1.44, 1.51, 1.58, 1.65],
    [1.2, 1.3, 1.38, 1.45, 1.52, 1.6],
]

x_ticks = [0.06, 0.11, 0.16, 0.21, 0.26, 0.31]
y_ticks = [0.5, 1, 1.5, 2, 2.5]
y_range = [0.5, 2.915]

jd = []
fwhm = []
for xs, ycols in ((jd_cols, fwhm_cols), (jd_fill, fwhm_fill)):
    for xc, ys in zip(xs, ycols):
        for yv in ys:
            jd.append(xc)
            fwhm.append(yv)

fig = go.Figure()
fig.add_trace(go.Scatter(
    x=jd, y=fwhm, mode="markers",
    marker=dict(color="#4472C4", size=6.5, line=dict(width=0)),
    showlegend=False,
))

axis_color = "#8c8c8c"
font_family = "DejaVu Sans"
label_color = "#595959"

fig.update_layout(
    width=1255, height=435,
    margin=dict(l=102, r=43, t=0, b=87),
    paper_bgcolor="white", plot_bgcolor="white",
    font=dict(family=font_family, color=label_color, size=19),
    xaxis=dict(
        range=[0.06, 0.31], tickvals=x_ticks,
        ticktext=[f"{v:.2f}" for v in x_ticks],
        showgrid=False, zeroline=False,
        showline=True, linecolor=axis_color, linewidth=1,
        ticks="outside", ticklen=6, tickcolor=axis_color,
        tickfont=dict(size=19, color=label_color),
        ticklabelstandoff=9,
        title=dict(text="<b>JD-2456592</b>", font=dict(size=22, color="#262626"), standoff=21),
    ),
    yaxis=dict(
        range=y_range, tickvals=y_ticks,
        ticktext=[f"{v:g}" for v in y_ticks],
        showgrid=True, gridcolor=axis_color, gridwidth=1,
        zeroline=False,
        showline=True, linecolor=axis_color, linewidth=1,
        ticks="outside", ticklen=9, tickcolor=axis_color,
        tickfont=dict(size=19, color=label_color),
        ticklabelstandoff=15,
        title=dict(text="<b>FWHM [arcsec]</b>", font=dict(size=22, color="#262626"), standoff=7),
    ),
)

fig.write_html("out.html")
